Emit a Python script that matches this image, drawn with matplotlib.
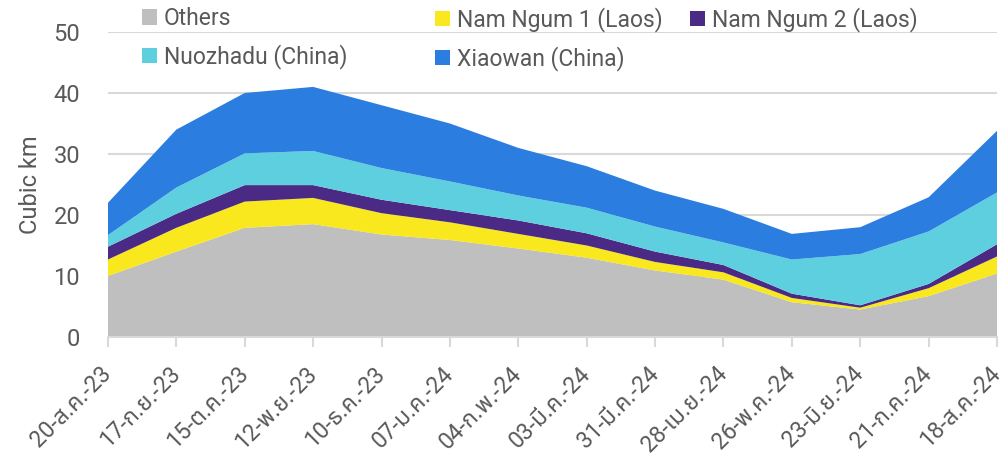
import matplotlib
matplotlib.use("Agg")
import matplotlib.pyplot as plt
import numpy as np

# Roboto for latin text, Noto Sans Thai picks up the Thai month names
plt.rcParams['font.family'] = ['Roboto', 'Noto Sans Thai', 'DejaVu Sans']

# week labels (Thai month abbreviations)
dates = ['20-ส.ค.-23', '17-ก.ย.-23', '15-ต.ค.-23', '12-พ.ย.-23', '10-ธ.ค.-23',
         '07-ม.ค.-24', '04-ก.พ.-24', '03-มี.ค.-24', '31-มี.ค.-24', '28-เม.ย.-24',
         '26-พ.ค.-24', '23-มิ.ย.-24', '21-ก.ค.-24', '18-ส.ค.-24']

# reservoir storage, cubic km
others = [10.0, 14.0, 17.9, 18.5, 16.8, 15.9, 14.5, 13.0, 10.9, 9.4, 5.7, 4.5, 6.7, 10.4]
nam_ngum_1 = [2.7, 3.9, 4.3, 4.3, 3.5, 2.9, 2.4, 2.0, 1.4, 1.2, 0.7, 0.3, 1.3, 2.8]
nam_ngum_2 = [2.1, 2.3, 2.7, 2.1, 2.2, 2.0, 2.2, 2.0, 1.7, 1.2, 0.7, 0.4, 0.7, 2.0]
nuozhadu = [1.9, 4.3, 5.2, 5.6, 5.2, 4.7, 4.1, 4.2, 4.1, 3.7, 5.6, 8.4, 8.6, 8.5]
xiaowan = [5.3, 9.5, 9.9, 10.5, 10.3, 9.5, 7.8, 6.8, 5.9, 5.5, 4.2, 4.4, 5.6, 10.1]

labels = ['Others', 'Nam Ngum 1 (Laos)', 'Nam Ngum 2 (Laos)', 'Nuozhadu (China)', 'Xiaowan (China)']
colors = ['#bfbfbf', '#f9e81e', '#4b2a85', '#5ecfdf', '#2b7de0']

text_col = '#595959'

fig = plt.figure(figsize=(10.08, 4.61), dpi=100)
ax = fig.add_axes([0.1071, 0.269, 0.882, 0.6616])

x = np.arange(len(dates))
polys = ax.stackplot(x, others, nam_ngum_1, nam_ngum_2, nuozhadu, xiaowan,
                     colors=colors, labels=labels, linewidth=0)

ax.set_xlim(0, len(dates) - 1)
ax.set_ylim(0, 50)
ax.set_yticks([0, 10, 20, 30, 40, 50])
ax.grid(axis='y', color='#d9d9d9', linewidth=1.5)
ax.set_axisbelow(True)

for s in ['top', 'right', 'left']:
    ax.spines[s].set_visible(False)
ax.spines['bottom'].set_color('#d9d9d9')
ax.spines['bottom'].set_linewidth(1.5)

ax.set_xticks(x)
ax.set_xticklabels(dates, rotation=45, ha='right', va='center', rotation_mode='anchor')
ax.tick_params(axis='x', colors='#d9d9d9', length=7, width=1.5, labelcolor=text_col,
               labelsize=16.5, pad=17)
ax.tick_params(axis='y', length=0, labelcolor=text_col, labelsize=17, pad=20)

ax.set_ylabel('Cubic km', color=text_col, fontsize=17, labelpad=8)

# legend: one column per legend so each column sits where the original has it
columns = [[0, 3], [1, 4], [2]]
col_x = [142, 435, 690]
for idx, cx in zip(columns, col_x):
    fig.legend([polys[i] for i in idx], [labels[i] for i in idx],
               loc='upper left', bbox_to_anchor=(cx / 1008, 1 - 7 / 461), frameon=False,
               fontsize=16.5, labelcolor=text_col, handlelength=0.66, handleheight=0.66,
               handletextpad=0.3, labelspacing=0.62, borderpad=0, borderaxespad=0)

fig.savefig('out.png', dpi=100)
